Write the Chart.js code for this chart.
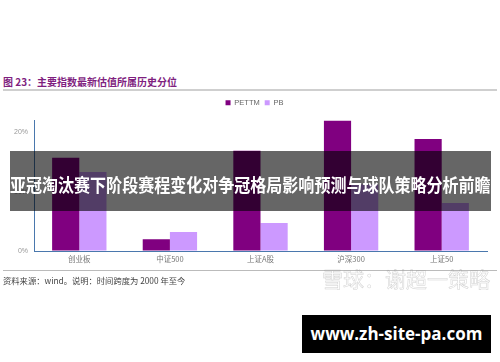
<!DOCTYPE html>
<html>
<head>
<meta charset="utf-8">
<script src="https://cdn.jsdelivr.net/npm/chart.js@4/dist/chart.umd.min.js"></script>
<style>
  body { margin: 0; background: #fff; width: 500px; height: 362px; position: relative; overflow: hidden; font-family: "Noto Sans CJK SC", "Noto Sans", sans-serif; }
  .abs { position: absolute; }
  #title { left: 3px; top: 75px; font-size: 10px; font-weight: bold; color: #7f1f7f; white-space: nowrap; line-height: 14px; }
  #rule1 { left: 3px; top: 89px; width: 494px; height: 2px; background: #cfcfcf; }
  #rule2 { left: 3px; top: 270px; width: 494px; height: 1px; background: #bbb; }
  #source { left: 3px; top: 275px; font-size: 8.3px; color: #444; white-space: nowrap; line-height: 11px; }
  #chartBox { left: 0; top: 92px; width: 500px; height: 178px; }
  #banner { left: 10px; top: 151px; width: 481px; height: 60px; background: rgba(0,0,0,0.6); z-index: 5; }
  #bannerText { left: 10px; top: 173px; font-size: 18px; font-weight: bold; color: #fff; white-space: nowrap; line-height: 22px; transform: scaleX(0.89); transform-origin: left center; z-index: 6; }
  #mark { left: 322px; top: 266px; font-size: 21px; color: transparent; -webkit-text-stroke: 0.5px rgba(150,150,150,0.45); white-space: nowrap; z-index: 4; line-height: 24px; }
  #site { left: 302px; top: 315px; width: 189px; height: 38px; background: #000; color: #fff; font-family: "Open Sans", sans-serif; font-weight: bold; font-size: 17px; line-height: 38px; text-align: center; z-index: 7; }
</style>
</head>
<body>
<div id="title" class="abs">图 23：主要指数最新估值所属历史分位</div>
<div id="rule1" class="abs"></div>
<div id="chartBox" class="abs"><canvas id="chart" width="500" height="178"></canvas></div>
<div id="rule2" class="abs"></div>
<div id="source" class="abs">资料来源：wind。说明：时间跨度为 2000 年至今</div>
<div id="mark" class="abs">雪球：谢超一策略</div>
<div id="banner" class="abs"></div>
<div id="bannerText" class="abs">亚冠淘汰赛下阶段赛程变化对争冠格局影响预测与球队策略分析前瞻</div>
<div id="site" class="abs">www.zh-site-pa.com</div>

<script>
// index names and percentile values (%)
const categories = ['创业板', '中证500', '上证A股', '沪深300', '上证50'];
const petTm = [15.7, 2.0, 16.9, 22.0, 18.9];
const pb = [13.3, 3.2, 4.7, 11.2, 8.1];
const seriesNames = ['PETTM', 'PB'];
const yTicks = [0, 10, 20];

const axisColor = '#4a78ad';

// the legend in the source sits a bit right of centre and close to the plot
const legendShift = {
    id: 'legendShift',
    beforeDraw(chart) {
        const lg = chart.legend;
        if (!lg || lg._shifted) return;
        lg.left += 11; lg.right += 11;
        lg.top -= 4; lg.bottom -= 4;
        lg._shifted = true;
    }
};

new Chart(document.getElementById('chart'), {
    type: 'bar',
    data: {
        labels: categories,
        datasets: [
            { label: seriesNames[0], data: petTm, backgroundColor: '#800080' },
            { label: seriesNames[1], data: pb, backgroundColor: '#cc99ff' }
        ]
    },
    options: {
        responsive: false,
        animation: false,
        maintainAspectRatio: false,
        layout: { padding: { top: 6, right: 13, left: 0, bottom: 0 } },
        datasets: { bar: { categoryPercentage: 0.6, barPercentage: 1.0 } },
        plugins: {
            tooltip: { enabled: false },
            legend: {
                position: 'top',
                labels: {
                    boxWidth: 5, boxHeight: 5, padding: 5,
                    color: '#666',
                    font: { size: 7.5, family: 'Arial, "Liberation Sans", sans-serif' }
                }
            }
        },
        scales: {
            x: {
                grid: { drawOnChartArea: false, drawTicks: false },
                border: { color: axisColor, width: 1 },
                ticks: { color: '#777', padding: 4, font: { size: 7.5, family: '"Noto Sans CJK SC", sans-serif' } },
                afterFit: s => { s.height = 19; }
            },
            y: {
                min: 0, max: 22,
                grid: { drawOnChartArea: false, drawTicks: false },
                border: { color: axisColor, width: 1 },
                afterBuildTicks: s => { s.ticks = yTicks.map(v => ({ value: v })); },
                ticks: {
                    color: '#999', padding: 6,
                    font: { size: 7, family: 'Arial, "Liberation Sans", sans-serif' },
                    callback: v => v + '%'
                },
                afterFit: s => { s.width = 34; }
            }
        }
    },
    plugins: [legendShift]
});
</script>
</body>
</html>
